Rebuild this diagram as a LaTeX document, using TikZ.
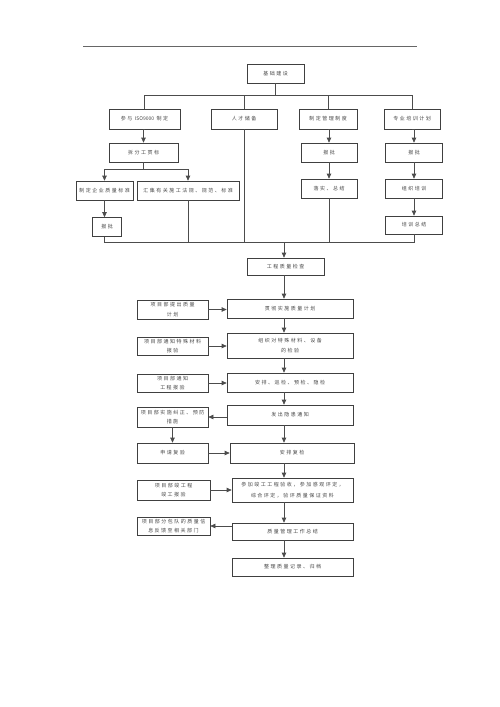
\documentclass[tikz,border=0pt]{standalone}
\usepackage{fontspec}
\newfontfamily\cjk[LetterSpace=30]{Noto Sans CJK SC}
\newfontfamily\cjkn{Noto Sans CJK SC}
\usetikzlibrary{arrows.meta,calc}
\tikzset{
  box/.style={draw=black!75, line width=0.7pt, fill=white, inner sep=0pt, align=center,
    font=\cjk\fontsize{5}{10.5}\selectfont, text=black!72},
  tight/.style={font=\cjk\fontsize{5}{9.5}\selectfont},
  ln/.style={draw=black!70, line width=0.7pt},
  arr/.style={ln, -{Triangle[length=5pt,width=4.5pt]}},
}
\newcommand{\bx}[6][]{\node[box, minimum width=#4pt, minimum height=#5pt, #1] (#2) at (#3) {#6};}
\begin{document}
\begin{tikzpicture}[x=1pt,y=-1pt]
\useasboundingbox (0,0) rectangle (500,707);
\fill[white] (0,0) rectangle (500,707);
% header rule
\coordinate (hl) at (83,46);
\coordinate (hr) at (417,46);
\draw[black!60, line width=0.9pt] (hl) -- (hr);
% named levels
\coordinate (top) at (0,95);
\coordinate (bot) at (0,242);
\coordinate (sp) at (284,0);
% top section
\bx{n0}{275.5,73.5}{57}{19}{基础建设}
\bx{r1}{144.5,119}{71}{20}{参与 {\cjkn ISO9000} 制定}
\bx{r2}{244,119}{66}{20}{人才储备}
\bx{r3}{328,119}{58}{20}{制定管理制度}
\bx{r4}{412,119}{56}{20}{专业培训计划}
\bx{a1}{143.5,152.5}{69}{19}{拆分工贯标}
\bx{a2}{104.5,190.5}{57}{19}{制定企业质量标准}
\bx{a3}{188,190.5}{102}{19}{汇集有关施工法规、规范、标准}
\bx{a4}{107,227}{29}{19}{报批}
\bx{c1}{329,152.5}{56}{19}{报批}
\bx{c2}{329,188.5}{56}{19}{落实、总结}
\bx{d1}{414,152.5}{57}{19}{报批}
\bx{d2}{414,188.5}{57}{19}{组织培训}
\bx{d3}{414,225}{57}{18}{培训总结}
% main column
\bx{m0}{285.5,266.5}{77}{17}{工程质量检查}
\bx{m1}{290,308.5}{126}{19}{贯彻实施质量计划}
\bx{m2}{290,345.5}{126}{25}{组织对特殊材料、设备\\的检验}
\bx{m3}{290,382.5}{126}{19}{安排、巡检、预检、隐检}
\bx{m4}{290,415}{126}{20}{发出隐患通知}
\bx{m5}{292,453}{124}{20}{安排复检}
\bx{m6}{292.5,490}{121}{24}{参加竣工工程验收，参加感观评定，\\综合评定，验评质量保证资料}
\bx{m7}{292.5,531.5}{121}{17}{质量管理工作总结}
\bx{m8}{292.5,567}{121}{18}{整理质量记录、归档}
% left column
\bx[tight]{l1}{172.5,309.5}{71}{19}{项目部提出质量\\计划}
\bx[tight]{l2}{172.5,346}{71}{18}{项目部通知特殊材料\\报验}
\bx[tight]{l3}{172.5,383}{71}{18}{项目部通知\\工程报验}
\bx[tight]{l4}{172.5,417}{71}{20}{项目部实施纠正、预防\\措施}
\bx{l5}{172.5,453}{71}{20}{申请复验}
\bx[tight]{l6}{173.5,490}{73}{20}{项目部竣工程\\竣工报验}
\bx[tight]{l7}{173.5,526}{73}{18}{项目部分包队的质量信\\息反馈至相关部门}
% top tree
\draw[ln] (n0.south) -- (n0.south |- top);
\draw[ln] (r1.north) -- (r1.north |- top) -- (r4.north |- top) -- (r4.north);
\draw[ln] (r2.north) -- (r2.north |- top);
\draw[ln] (r3.north) -- (r3.north |- top);
\draw[arr] (r1.south) -- (r1.south -| a1) -- (a1.north);
\coordinate (br) at (0,169);
\draw[ln] (a1.south) -- (a1.south |- br);
\draw[arr] (a2.north |- br) -- (a2.north);
\draw[arr] (a3.north |- br) -- (a3.north);
\draw[ln] (a2.north |- br) -- (a3.north |- br);
\draw[arr] (a2.south) -- (a4.north -| a2.south);
\draw[arr] (r3.south) -- (r3.south -| c1) -- (c1.north);
\draw[arr] (c1.south) -- (c2.north);
\draw[arr] (r4.south) -- (r4.south -| d1) -- (d1.north);
\draw[arr] (d1.south) -- (d2.north);
\draw[arr] (d2.south) -- (d3.north);
% bottom collector
\draw[ln] (a4.south -| a2.south) -- (a2.south |- bot) -- (d3.south |- bot) -- (d3.south);
\draw[ln] (r2.south) -- (r2.south |- bot);
\draw[ln] (a3.south) -- (a3.south |- bot);
\draw[ln] (c2.south) -- (c2.south |- bot);
\draw[arr] (sp |- bot) -- (sp |- m0.north);
% main spine
\draw[arr] (sp |- m0.south) -- (sp |- m1.north);
\draw[arr] (sp |- m1.south) -- (sp |- m2.north);
\draw[arr] (sp |- m2.south) -- (sp |- m3.north);
\draw[arr] (sp |- m3.south) -- (sp |- m4.north);
\draw[arr] (sp |- m4.south) -- (sp |- m5.north);
\draw[arr] (sp |- m5.south) -- (sp |- m6.north);
\draw[arr] (sp |- m6.south) -- (sp |- m7.north);
\draw[arr] (sp |- m7.south) -- (sp |- m8.north);
% side arrows
\draw[arr] (l1.east) -- (l1.east -| m1.west);
\draw[arr] (l2.east) -- (l2.east -| m2.west);
\draw[arr] (l3.east) -- (l3.east -| m3.west);
\draw[arr] (m4.west |- l4.east) -- (l4.east);
\draw[arr] (l4.south) -- (l5.north);
\draw[arr] (l5.east) -- (l5.east -| m5.west);
\draw[arr] (l6.east) -- (l6.east -| m6.west);
\draw[arr] (m7.west |- l7.east) -- (l7.east);
\end{tikzpicture}
\end{document}
